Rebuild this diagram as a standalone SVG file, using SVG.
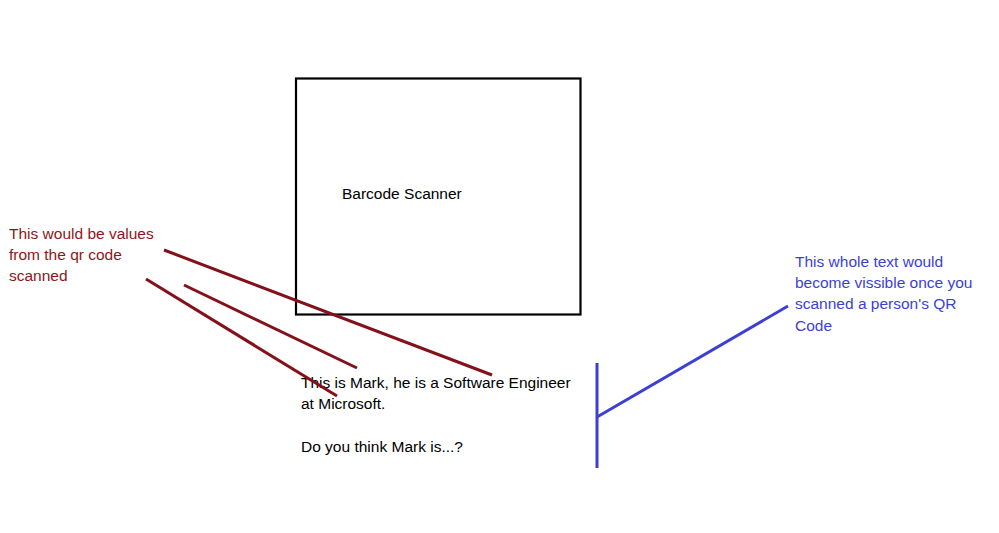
<svg xmlns="http://www.w3.org/2000/svg" width="999" height="533" viewBox="0 0 999 533">
<style>
text{font-family:"Liberation Sans",Arial,sans-serif;font-size:15.5px}
.red{fill:#8f1519}
.blue{fill:#3b3fd6}
.blk{fill:#000}
.rl{stroke:#84111a;stroke-width:3;fill:none}
.bl{stroke:#3b3fd6;stroke-width:3;fill:none}
</style>
<rect width="999" height="533" fill="#fff"/>
<g id="scanner">
<rect x="296" y="78.5" width="284.5" height="236" fill="none" stroke="#000" stroke-width="2.2"/>
<text class="blk" x="342" y="199">Barcode Scanner</text>
</g>
<g id="values-note">
<text class="red" x="9" y="239">This would be values</text>
<text class="red" x="9" y="260">from the qr code</text>
<text class="red" x="9" y="281">scanned</text>
</g>
<g id="profile-text">
<text class="blk" x="301" y="388">This is Mark, he is a Software Engineer</text>
<text class="blk" x="301" y="409">at Microsoft.</text>
<text class="blk" x="301" y="452">Do you think Mark is...?</text>
</g>
<g id="visible-note">
<text class="blue" x="795" y="267">This whole text would</text>
<text class="blue" x="795" y="288">become vissible once you</text>
<text class="blue" x="795" y="309">scanned a person's QR</text>
<text class="blue" x="795" y="331">Code</text>
</g>
<g id="connectors">
<line class="rl" x1="164" y1="250" x2="492" y2="375"/>
<line class="rl" x1="184" y1="285" x2="357" y2="368"/>
<line class="rl" x1="146" y1="279" x2="337" y2="396"/>
<line class="bl" x1="597" y1="363" x2="597" y2="468"/>
<line class="bl" x1="597" y1="417" x2="788" y2="306"/>
</g>
</svg>
